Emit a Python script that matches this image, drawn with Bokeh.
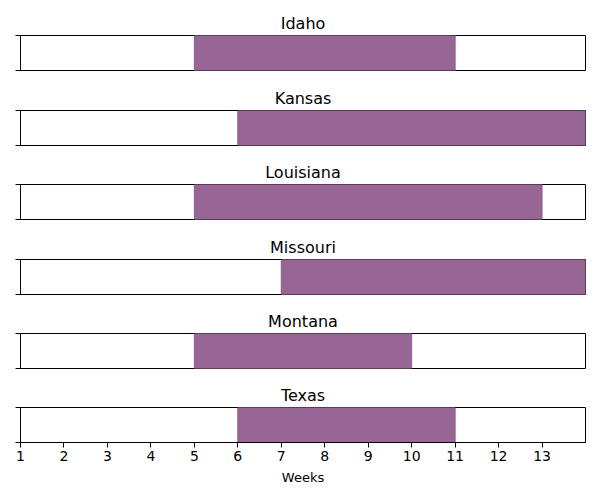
from bokeh.plotting import figure
from bokeh.layouts import column
from bokeh.models import Range1d, FixedTicker, LinearAxis
from bokeh.embed import file_html
from bokeh.resources import INLINE

states = ["Idaho", "Kansas", "Louisiana", "Missouri", "Montana", "Texas"]
starts = [5, 6, 5, 7, 5, 6]
ends = [11, 14, 13, 14, 10, 11]
week_ticks = [1, 2, 3, 4, 5, 6, 7, 8, 9, 10, 11, 12, 13]
x_min, x_max = 1, 14

FONT = "DejaVu Sans"
BAR = "#976694"
EDGE = "#8c5c89"

tops = [35, 27, 27, 27, 27, 27]
bottoms = [13, 12, 13, 12, 12, 50]
figs = []
for i, (st, s, e) in enumerate(zip(states, starts, ends)):
    last = i == len(states) - 1
    p = figure(frame_width=565, frame_height=35,
               x_range=Range1d(x_min, x_max), y_range=Range1d(0, 1),
               output_backend="svg", toolbar_location=None,
               x_axis_location="below" if last else None,
               y_axis_location=None,
               min_border_left=20, min_border_right=7,
               min_border_top=tops[i], min_border_bottom=bottoms[i],
               title=st)
    p.title.align = "center"
    p.title.text_font = FONT
    p.title.text_font_size = "16px"
    p.title.text_font_style = "normal"
    p.title.text_color = "#000000"
    p.title.standoff = 6
    p.grid.visible = False
    p.outline_line_color = "black"
    p.outline_line_width = 1
    p.outline_line_alpha = 1
    p.background_fill_color = "white"
    p.border_fill_color = "white"

    yax = LinearAxis(ticker=FixedTicker(ticks=[0, 1]),
                     major_label_overrides={0: "", 1: ""},
                     major_label_text_font_size="0px",
                     major_label_standoff=0,
                     major_tick_out=5, major_tick_in=0,
                     minor_tick_out=0, minor_tick_in=0,
                     axis_line_color="black",
                     major_tick_line_color="black")
    p.add_layout(yax, "left")

    p.quad(left=[s], right=[e], bottom=[0], top=[1],
           fill_color=BAR, fill_alpha=1, line_color=EDGE, line_width=1)

    if last:
        xa = p.xaxis[0]
        xa.ticker = FixedTicker(ticks=week_ticks)
        xa.axis_label = "Weeks"
        xa.axis_label_text_font = FONT
        xa.axis_label_text_font_size = "13px"
        xa.axis_label_text_font_style = "normal"
        xa.axis_label_text_color = "black"
        xa.axis_label_standoff = 6
        xa.major_label_text_font = FONT
        xa.major_label_text_font_size = "14px"
        xa.major_label_text_color = "black"
        xa.major_label_standoff = 3
        xa.major_tick_out = 5
        xa.major_tick_in = 0
        xa.minor_tick_out = 0
        xa.minor_tick_in = 0
        xa.axis_line_color = "black"
        xa.major_tick_line_color = "black"
    figs.append(p)

layout = column(*figs, spacing=0)
open("out.html", "w").write(file_html(layout, INLINE))
